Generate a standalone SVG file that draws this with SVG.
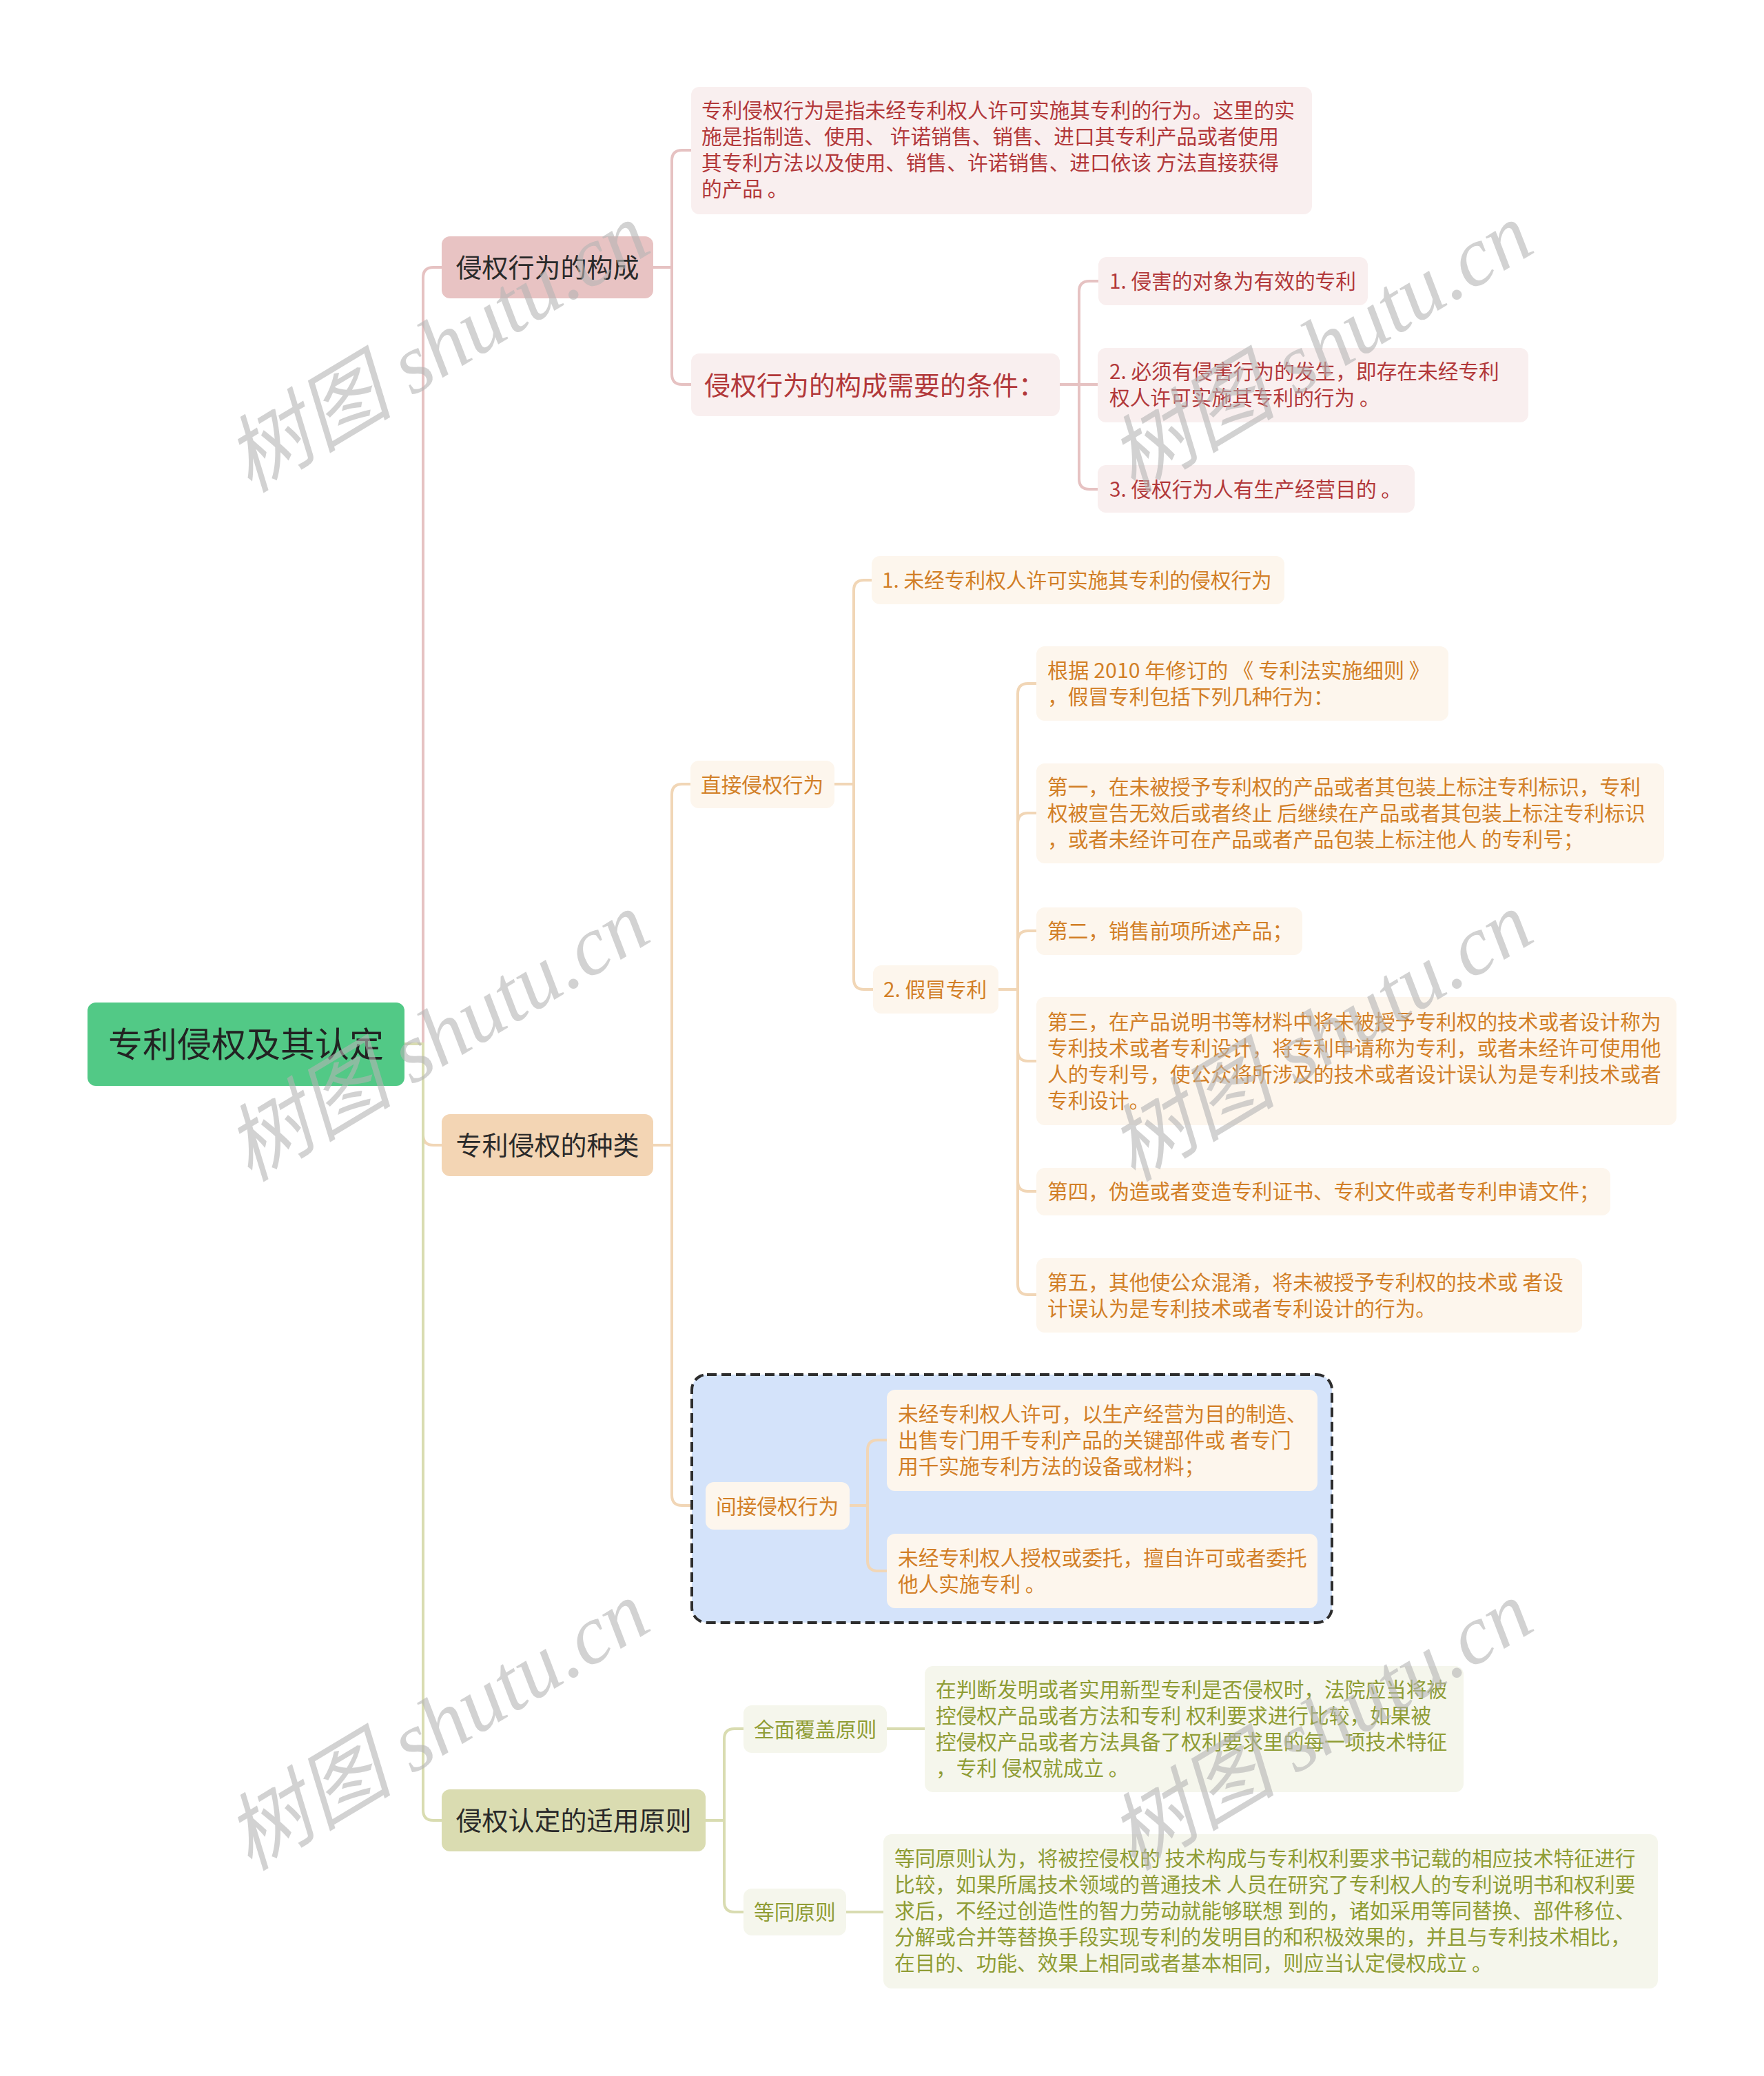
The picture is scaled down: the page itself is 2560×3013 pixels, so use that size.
<svg xmlns="http://www.w3.org/2000/svg" width="2560" height="3013" viewBox="0 0 2560 3013">
<style>
text{font-family:"Noto Sans CJK SC","Noto Sans",sans-serif;}
.root{fill:#52c986;}
.rt{font-size:50px;fill:#222;text-anchor:middle;}
.l1t{font-size:38px;fill:#2a2a2a;text-anchor:middle;}
.p1{fill:#e8c3c3;} .o1{fill:#f3d5b4;} .g1{fill:#dadcb1;}
.pl{fill:#f9efef;} .ol{fill:#fdf6ed;} .gl{fill:#f5f6ec;}
.pt{font-size:29.7px;fill:#b2383a;}
.ot{font-size:29.7px;fill:#d27f27;}
.gt{font-size:29.7px;fill:#8f9c34;}
.pbig{font-size:38px;fill:#b2383a;}
.cp{fill:none;stroke:#e6c2c2;stroke-width:4;}
.co{fill:none;stroke:#f1d6b6;stroke-width:4;}
.cg{fill:none;stroke:#d9dcb1;stroke-width:4;}
.wm{font-family:"Liberation Serif","Noto Sans CJK SC",serif;font-style:italic;font-size:122px;fill:#b4b4b4;fill-opacity:0.6;text-anchor:middle;}
</style>
<rect width="2560" height="3013" fill="#ffffff"/>
<g id="connectors">
<path class="cp" d="M587,1515 H614 V403 Q614,388 629,388 H641"/>
<path class="cp" d="M948,388 H975 V233 Q975,218 990,218 H1003"/>
<path class="cp" d="M948,388 H975 V543 Q975,558 990,558 H1003"/>
<path class="cp" d="M1538,558 H1566 V423 Q1566,408 1581,408 H1594"/>
<path class="cp" d="M1538,558 H1594"/>
<path class="cp" d="M1538,558 H1566 V695 Q1566,710 1581,710 H1594"/>
<path class="co" d="M587,1515 H614 V1647 Q614,1662 629,1662 H641"/>
<path class="co" d="M948,1662 H975 V1153 Q975,1138 990,1138 H1002"/>
<path class="co" d="M948,1662 H975 V2170 Q975,2185 990,2185 H1024"/>
<path class="co" d="M1211,1138 H1239 V857 Q1239,842 1254,842 H1265"/>
<path class="co" d="M1211,1138 H1239 V1421 Q1239,1436 1254,1436 H1267"/>
<path class="co" d="M1449,1436 H1477 V1007 Q1477,992 1492,992 H1504"/>
<path class="co" d="M1449,1436 H1477 V1195 Q1477,1180 1492,1180 H1504"/>
<path class="co" d="M1449,1436 H1477 V1366 Q1477,1351 1492,1351 H1504"/>
<path class="co" d="M1449,1436 H1477 V1525 Q1477,1540 1492,1540 H1504"/>
<path class="co" d="M1449,1436 H1477 V1714 Q1477,1729 1492,1729 H1504"/>
<path class="co" d="M1449,1436 H1477 V1864 Q1477,1879 1492,1879 H1504"/>
<path class="cg" d="M587,1515 H614 V2627 Q614,2642 629,2642 H641"/>
<path class="cg" d="M1024,2642 H1051 V2524 Q1051,2509 1066,2509 H1079"/>
<path class="cg" d="M1024,2642 H1051 V2760 Q1051,2775 1066,2775 H1079"/>
<path class="cg" d="M1287,2509 H1342"/>
<path class="cg" d="M1228,2775 H1282"/>
</g>
<g id="boundary">
<rect x="1004" y="1995" width="929" height="360" rx="22" fill="#d4e3fa" stroke="#2d2d2d" stroke-width="4" stroke-dasharray="14 7"/>
<path class="co" d="M1233,2185 H1259 V2105 Q1259,2090 1274,2090 H1287"/>
<path class="co" d="M1233,2185 H1259 V2265 Q1259,2280 1274,2280 H1287"/>
</g>
<g id="root">
<rect class="root" x="127" y="1455" width="460" height="121" rx="12"/>
<text class="rt" x="357" y="1534">专利侵权及其认定</text>
</g>
<g id="n-goucheng">
<rect class="p1" x="641" y="343" width="307" height="90" rx="12"/>
<text class="l1t" x="794.5" y="402">侵权行为的构成</text>
</g>
<g id="n-dingyi">
<rect class="pl" x="1003" y="126" width="901" height="185" rx="12"/>
<text class="pt" x="1018" y="171">专利侵权行为是指未经专利权人许可实施其专利的行为。这里的实</text>
<text class="pt" x="1018" y="209">施是指制造、使用、 许诺销售、销售、进口其专利产品或者使用</text>
<text class="pt" x="1018" y="247">其专利方法以及使用、销售、许诺销售、进口依该 方法直接获得</text>
<text class="pt" x="1018" y="285">的产品 。</text>
</g>
<g id="n-tiaojian">
<rect class="pl" x="1003" y="513" width="535" height="91" rx="12"/>
<text class="pbig" x="1022" y="573">侵权行为的构成需要的条件：</text>
</g>
<g id="n-c1">
<rect class="pl" x="1594" y="373" width="391" height="70" rx="12"/>
<text class="pt" x="1610" y="419">1. 侵害的对象为有效的专利</text>
</g>
<g id="n-c2">
<rect class="pl" x="1593" y="505" width="625" height="108" rx="12"/>
<text class="pt" x="1610" y="550">2. 必须有侵害行为的发生，即存在未经专利</text>
<text class="pt" x="1610" y="588">权人许可实施其专利的行为 。</text>
</g>
<g id="n-c3">
<rect class="pl" x="1593" y="675" width="460" height="69" rx="12"/>
<text class="pt" x="1610" y="721">3. 侵权行为人有生产经营目的 。</text>
</g>
<g id="n-zhonglei">
<rect class="o1" x="641" y="1617" width="307" height="90" rx="12"/>
<text class="l1t" x="794.5" y="1676">专利侵权的种类</text>
</g>
<g id="n-zhijie">
<rect class="ol" x="1002" y="1104" width="209" height="69" rx="12"/>
<text class="ot" x="1017" y="1150">直接侵权行为</text>
</g>
<g id="n-e1">
<rect class="ol" x="1265" y="807" width="599" height="70" rx="12"/>
<text class="ot" x="1280" y="853">1. 未经专利权人许可实施其专利的侵权行为</text>
</g>
<g id="n-e2">
<rect class="ol" x="1267" y="1401" width="182" height="70" rx="12"/>
<text class="ot" x="1282" y="1447">2. 假冒专利</text>
</g>
<g id="n-f0">
<rect class="ol" x="1504" y="938" width="598" height="108" rx="12"/>
<text class="ot" x="1520" y="984" textLength="555" lengthAdjust="spacingAndGlyphs">根据 2010 年修订的 《 专利法实施细则 》</text>
<text class="ot" x="1520" y="1022">，假冒专利包括下列几种行为：</text>
</g>
<g id="n-f1">
<rect class="ol" x="1504" y="1108" width="911" height="145" rx="12"/>
<text class="ot" x="1520" y="1153">第一，在未被授予专利权的产品或者其包装上标注专利标识，专利</text>
<text class="ot" x="1520" y="1191">权被宣告无效后或者终止 后继续在产品或者其包装上标注专利标识</text>
<text class="ot" x="1520" y="1229">，或者未经许可在产品或者产品包装上标注他人 的专利号；</text>
</g>
<g id="n-f2">
<rect class="ol" x="1504" y="1317" width="386" height="69" rx="12"/>
<text class="ot" x="1520" y="1362">第二，销售前项所述产品；</text>
</g>
<g id="n-f3">
<rect class="ol" x="1504" y="1447" width="929" height="186" rx="12"/>
<text class="ot" x="1520" y="1494">第三，在产品说明书等材料中将未被授予专利权的技术或者设计称为</text>
<text class="ot" x="1520" y="1532">专利技术或者专利设计，将专利申请称为专利，或者未经许可使用他</text>
<text class="ot" x="1520" y="1570">人的专利号，使公众将所涉及的技术或者设计误认为是专利技术或者</text>
<text class="ot" x="1520" y="1608">专利设计。</text>
</g>
<g id="n-f4">
<rect class="ol" x="1504" y="1695" width="833" height="69" rx="12"/>
<text class="ot" x="1520" y="1740">第四，伪造或者变造专利证书、专利文件或者专利申请文件；</text>
</g>
<g id="n-f5">
<rect class="ol" x="1504" y="1826" width="792" height="108" rx="12"/>
<text class="ot" x="1520" y="1872">第五，其他使公众混淆，将未被授予专利权的技术或 者设</text>
<text class="ot" x="1520" y="1910">计误认为是专利技术或者专利设计的行为。</text>
</g>
<g id="n-jianjie">
<rect class="ol" x="1024" y="2151" width="209" height="69" rx="12"/>
<text class="ot" x="1039" y="2197">间接侵权行为</text>
</g>
<g id="n-g1">
<rect class="ol" x="1287" y="2017" width="625" height="147" rx="12"/>
<text class="ot" x="1303" y="2063">未经专利权人许可，以生产经营为目的制造、</text>
<text class="ot" x="1303" y="2101">出售专门用千专利产品的关键部件或 者专门</text>
<text class="ot" x="1303" y="2139">用千实施专利方法的设备或材料；</text>
</g>
<g id="n-g2">
<rect class="ol" x="1287" y="2226" width="625" height="108" rx="12"/>
<text class="ot" x="1303" y="2272">未经专利权人授权或委托，擅自许可或者委托</text>
<text class="ot" x="1303" y="2310">他人实施专利 。</text>
</g>
<g id="n-yuanze">
<rect class="g1" x="641" y="2597" width="383" height="90" rx="12"/>
<text class="l1t" x="832.5" y="2656">侵权认定的适用原则</text>
</g>
<g id="n-h1">
<rect class="gl" x="1079" y="2475" width="208" height="69" rx="12"/>
<text class="gt" x="1094" y="2521">全面覆盖原则</text>
</g>
<g id="n-h2">
<rect class="gl" x="1079" y="2741" width="149" height="68" rx="12"/>
<text class="gt" x="1094" y="2786">等同原则</text>
</g>
<g id="n-i1">
<rect class="gl" x="1342" y="2418" width="782" height="183" rx="12"/>
<text class="gt" x="1358" y="2463">在判断发明或者实用新型专利是否侵权时，法院应当将被</text>
<text class="gt" x="1358" y="2501">控侵权产品或者方法和专利 权利要求进行比较，如果被</text>
<text class="gt" x="1358" y="2539">控侵权产品或者方法具备了权利要求里的每一项技术特征</text>
<text class="gt" x="1358" y="2577">，专利 侵权就成立 。</text>
</g>
<g id="n-i2">
<rect class="gl" x="1282" y="2662" width="1124" height="224" rx="12"/>
<text class="gt" x="1298" y="2708">等同原则认为，将被控侵权的 技术构成与专利权利要求书记载的相应技术特征进行</text>
<text class="gt" x="1298" y="2746">比较，如果所属技术领域的普通技术 人员在研究了专利权人的专利说明书和权利要</text>
<text class="gt" x="1298" y="2784">求后，不经过创造性的智力劳动就能够联想 到的，诸如采用等同替换、部件移位、</text>
<text class="gt" x="1298" y="2822">分解或合并等替换手段实现专利的发明目的和积极效果的，并且与专利技术相比，</text>
<text class="gt" x="1298" y="2860">在目的、功能、效果上相同或者基本相同，则应当认定侵权成立 。</text>
</g>
<g id="watermarks">
<text class="wm" transform="translate(656,540) rotate(-31)">树图 shutu.cn</text>
<text class="wm" transform="translate(1938,540) rotate(-31)">树图 shutu.cn</text>
<text class="wm" transform="translate(656,1540) rotate(-31)">树图 shutu.cn</text>
<text class="wm" transform="translate(1938,1540) rotate(-31)">树图 shutu.cn</text>
<text class="wm" transform="translate(656,2540) rotate(-31)">树图 shutu.cn</text>
<text class="wm" transform="translate(1938,2540) rotate(-31)">树图 shutu.cn</text>
</g>
</svg>
